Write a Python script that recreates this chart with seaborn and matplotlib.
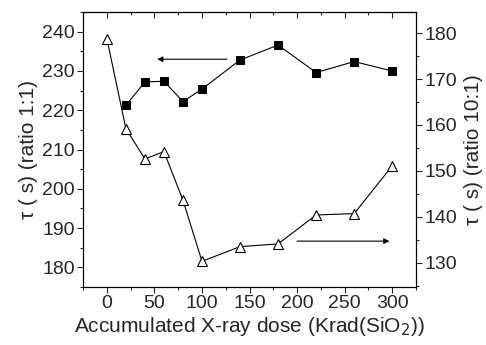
import seaborn as sns
import matplotlib.pyplot as plt
import pandas as pd
import numpy as np
from matplotlib.ticker import MultipleLocator

# dose (Krad(SiO2)) and lifetimes
dose_11 = [20, 40, 60, 80, 100, 140, 180, 220, 260, 300]
tau_11 = [221.3, 227.2, 227.4, 222.2, 225.4, 232.8, 236.6, 229.6, 232.4, 230.0]

dose_101 = [0, 20, 40, 60, 80, 100, 140, 180, 220, 260, 300]
tau_101 = [178.8, 159.2, 152.6, 154.2, 143.6, 130.3, 133.5, 134.1, 140.4, 140.7, 151.1]

df11 = pd.DataFrame({'dose': dose_11, 'tau': tau_11})
df101 = pd.DataFrame({'dose': dose_101, 'tau': tau_101})

sns.set_style('ticks')
plt.rcParams['font.family'] = ['Liberation Sans', 'DejaVu Sans']
plt.rcParams['font.size'] = 13

fig, ax1 = plt.subplots(figsize=(4.86, 3.45), dpi=100)
ax2 = ax1.twinx()

sns.lineplot(data=df11, x='dose', y='tau', marker='s', markersize=6,
             color='black', markeredgecolor='black', linewidth=0.8, ax=ax1)
sns.lineplot(data=df101, x='dose', y='tau', marker='^', markersize=7.5,
             color='black', markerfacecolor='white', markeredgecolor='black',
             markeredgewidth=0.8, linewidth=0.8, ax=ax2)

ax1.set_xlim(-25, 325)
ax1.set_ylim(175, 245)
ax2.set_ylim(124.7, 184.6)

ax1.xaxis.set_major_locator(MultipleLocator(50))
ax1.xaxis.set_minor_locator(MultipleLocator(25))
ax1.yaxis.set_major_locator(MultipleLocator(10))
ax1.yaxis.set_minor_locator(MultipleLocator(5))
ax2.yaxis.set_major_locator(MultipleLocator(10))
ax2.yaxis.set_minor_locator(MultipleLocator(5))

for a in (ax1, ax2):
    a.tick_params(which='major', length=4, width=0.8, direction='out', labelsize=14, pad=2)
    a.tick_params(which='minor', length=2.5, width=0.8, direction='out')
    for s in a.spines.values():
        s.set_linewidth(0.8)
        s.set_color('black')

top = ax1.secondary_xaxis('top')
top.xaxis.set_major_locator(MultipleLocator(50))
top.xaxis.set_minor_locator(MultipleLocator(25))
top.tick_params(which='major', direction='in', length=4, width=0.8, labeltop=False)
top.tick_params(which='minor', direction='in', length=2.5, width=0.8)

ax1.set_xlabel('Accumulated X-ray dose (Krad(SiO$_2$))', fontsize=15, labelpad=2)
ax1.set_ylabel('τ ( s) (ratio 1:1)', fontsize=15, labelpad=3)
ax2.set_ylabel('τ ( s) (ratio 10:1)', fontsize=15, labelpad=5)

ax1.annotate('', xy=(50, 233.0), xytext=(129, 233.0),
             arrowprops=dict(arrowstyle='-|>', color='black', lw=0.8,
                             mutation_scale=8))
ax2.annotate('', xy=(300, 134.7), xytext=(197, 134.7),
             arrowprops=dict(arrowstyle='-|>', color='black', lw=0.8,
                             mutation_scale=8))

plt.subplots_adjust(left=0.171, right=0.856, top=0.965, bottom=0.168)
plt.savefig('out.png', dpi=100)
